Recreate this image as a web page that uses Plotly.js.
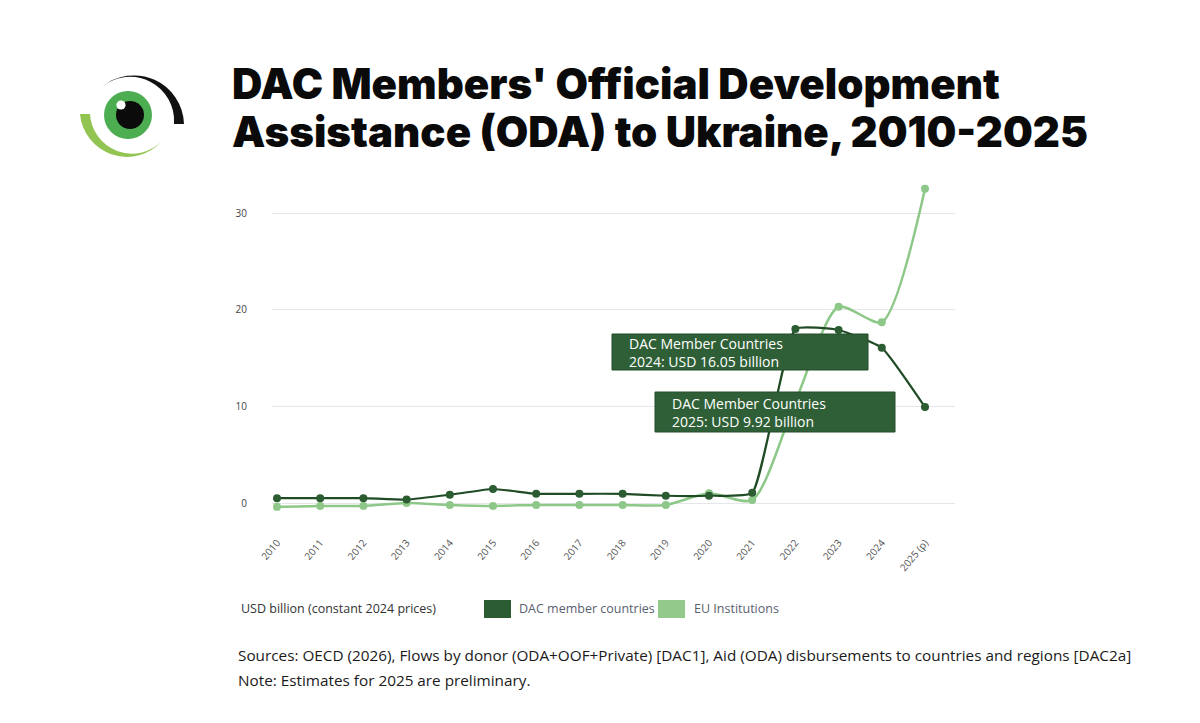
<!DOCTYPE html>
<html>
<head>
<meta charset="utf-8">
<script src="https://cdn.plot.ly/plotly-3.0.1.min.js"></script>
<style>
  html, body { margin: 0; padding: 0; background: #ffffff; }
  #chart { width: 1200px; height: 723px; }
</style>
</head>
<body>
<div id="chart"></div>
<script>
// ---- Data ----
const years = ['2010','2011','2012','2013','2014','2015','2016','2017','2018','2019','2020','2021','2022','2023','2024','2025 (p)'];
const dacValues = [0.5, 0.5, 0.5, 0.35, 0.85, 1.45, 0.95, 0.95, 0.95, 0.75, 0.75, 1.05, 18.0, 17.9, 16.05, 9.92];
const euValues  = [-0.4, -0.3, -0.3, 0.0, -0.2, -0.3, -0.2, -0.2, -0.2, -0.2, 1.0, 0.3, 10.5, 20.3, 18.7, 32.5];
const seriesNames = ['DAC member countries', 'EU Institutions'];
const yTicks = [0, 10, 20, 30];
const titleLines = ["DAC Members' Official Development", "Assistance (ODA) to Ukraine, 2010-2025"];
const unitText = 'USD billion (constant 2024 prices)';
const calloutTexts = ['DAC Member Countries<br>2024: USD 16.05 billion', 'DAC Member Countries<br>2025: USD 9.92 billion'];
const sourceLines = ['Sources: OECD (2026), Flows by donor (ODA+OOF+Private) [DAC1], Aid (ODA) disbursements to countries and regions [DAC2a]', 'Note: Estimates for 2025 are preliminary.'];

// ---- Layout geometry (pixels) ----
const W = 1200, H = 723;
const PL = 272, PR = 955, PT = 180, PB = 530;
const pw = PR - PL, ph = PB - PT;
const px = v => (v - PL) / pw;          // pixel x -> paper x
const py = v => (PB - v) / ph;          // pixel y -> paper y

const darkGreen = '#2b5c32';
const darkLine = '#1f4c25';
const lightGreen = '#8dc888';
const bodyFont = 'Open Sans, Noto Sans, sans-serif';
const titleFont = { family: 'Inter, Roboto, sans-serif', size: 42, color: '#0a0a0a', weight: 900 };

// Logo as inline SVG
const logoSvg = `<svg xmlns="http://www.w3.org/2000/svg" width="120" height="100" viewBox="75 65 120 100">
<path d="M102,87 A50,50 0 0,1 184,124 L174,124 A44,44 0 0,0 102,87 Z" fill="#111"/>
<path d="M80,114 A47,47 0 0,0 162,141 A42,42 0 0,1 90,114 Z" fill="#92c452"/>
<circle cx="128" cy="115" r="24" fill="#4cae50"/>
<circle cx="130" cy="115" r="14" fill="#0b0b0b"/>
<circle cx="121" cy="105" r="4.6" fill="#ffffff"/>
</svg>`;
const logoUri = 'data:image/svg+xml;base64,' + btoa(logoSvg);

const traces = [
  {
    x: years, y: euValues, name: seriesNames[1], type: 'scatter', mode: 'lines+markers',
    line: { color: lightGreen, width: 2.5, shape: 'spline', smoothing: 0.7 },
    marker: { color: lightGreen, size: 8 }, showlegend: false, cliponaxis: false
  },
  {
    x: years, y: dacValues, name: seriesNames[0], type: 'scatter', mode: 'lines+markers',
    line: { color: darkLine, width: 2.2, shape: 'spline', smoothing: 0.4 },
    marker: { color: darkGreen, size: 8 }, showlegend: false, cliponaxis: false
  }
];

// category positions: index 0 at px 277, step 43.2
const step = 43.2, x0 = 277;
const xr = [(PL - x0) / step, (PR - x0) / step];
const ppu = (503 - 213) / 30;
const yr = [-(PB - 503) / ppu, (503 - PT) / ppu];

const shapes = [
  // callout boxes
  { type: 'rect', xref: 'paper', yref: 'paper', x0: px(612), x1: px(868), y0: py(370), y1: py(334),
    fillcolor: '#2f5f36', line: { color: '#244d2a', width: 1 }, layer: 'above' },
  { type: 'rect', xref: 'paper', yref: 'paper', x0: px(655), x1: px(895), y0: py(432), y1: py(392),
    fillcolor: '#2f5f36', line: { color: '#244d2a', width: 1 }, layer: 'above' },
  // legend swatches
  { type: 'rect', xref: 'paper', yref: 'paper', x0: px(484), x1: px(511), y0: py(618), y1: py(600),
    fillcolor: darkGreen, line: { width: 0 } },
  { type: 'rect', xref: 'paper', yref: 'paper', x0: px(658), x1: px(685), y0: py(618), y1: py(600),
    fillcolor: '#94c98c', line: { width: 0 } }
];

const annotations = [
  { text: titleLines[0], xref: 'paper', yref: 'paper', x: px(230), y: py(83), xanchor: 'left', yanchor: 'middle',
    showarrow: false, font: titleFont },
  { text: titleLines[1], xref: 'paper', yref: 'paper', x: px(230), y: py(132), xanchor: 'left', yanchor: 'middle',
    showarrow: false, font: titleFont },
  { text: calloutTexts[0], xref: 'paper', yref: 'paper', x: px(627), y: py(352), xanchor: 'left', yanchor: 'middle',
    align: 'left', showarrow: false, font: { family: bodyFont, size: 14, color: '#ffffff' } },
  { text: calloutTexts[1], xref: 'paper', yref: 'paper', x: px(670), y: py(412), xanchor: 'left', yanchor: 'middle',
    align: 'left', showarrow: false, font: { family: bodyFont, size: 14, color: '#ffffff' } },
  { text: unitText, xref: 'paper', yref: 'paper', x: px(239), y: py(608), xanchor: 'left', yanchor: 'middle',
    showarrow: false, font: { family: bodyFont, size: 12.5, color: '#333333' } },
  { text: seriesNames[0], xref: 'paper', yref: 'paper', x: px(517), y: py(608), xanchor: 'left', yanchor: 'middle',
    showarrow: false, font: { family: bodyFont, size: 12.5, color: '#5a6170' } },
  { text: seriesNames[1], xref: 'paper', yref: 'paper', x: px(692), y: py(608), xanchor: 'left', yanchor: 'middle',
    showarrow: false, font: { family: bodyFont, size: 12.5, color: '#5a6170' } },
  { text: sourceLines[0], xref: 'paper', yref: 'paper', x: px(236), y: py(655), xanchor: 'left', yanchor: 'middle',
    showarrow: false, font: { family: bodyFont, size: 15.3, color: '#1a1a1a' } },
  { text: sourceLines[1], xref: 'paper', yref: 'paper', x: px(236), y: py(680), xanchor: 'left', yanchor: 'middle',
    showarrow: false, font: { family: bodyFont, size: 15.3, color: '#1a1a1a' } }
];

const layout = {
  width: W, height: H,
  paper_bgcolor: '#ffffff', plot_bgcolor: '#ffffff',
  margin: { l: PL, r: W - PR, t: PT, b: H - PB, pad: 0 },
  xaxis: {
    type: 'category', range: xr, showgrid: false, zeroline: false, showline: false,
    ticks: '', tickangle: -50, tickfont: { family: bodyFont, size: 10, color: '#555555' },
    ticklabelstandoff: 4, fixedrange: true
  },
  yaxis: {
    range: yr, tickvals: yTicks, ticktext: yTicks.map(String), showgrid: true, gridcolor: '#e4e6ea', gridwidth: 1,
    zeroline: true, zerolinecolor: '#e4e6ea', zerolinewidth: 1, showline: false, ticks: '',
    tickfont: { family: bodyFont, size: 10, color: '#444444' }, ticklabelstandoff: 24, fixedrange: true
  },
  showlegend: false,
  shapes: shapes,
  annotations: annotations,
  images: [{ source: logoUri, xref: 'paper', yref: 'paper', x: px(75), y: py(65), sizex: 120 / pw, sizey: 100 / ph,
    xanchor: 'left', yanchor: 'top', sizing: 'stretch', layer: 'above' }]
};

Plotly.newPlot('chart', traces, layout, { displayModeBar: false, staticPlot: true });
</script>
</body>
</html>
